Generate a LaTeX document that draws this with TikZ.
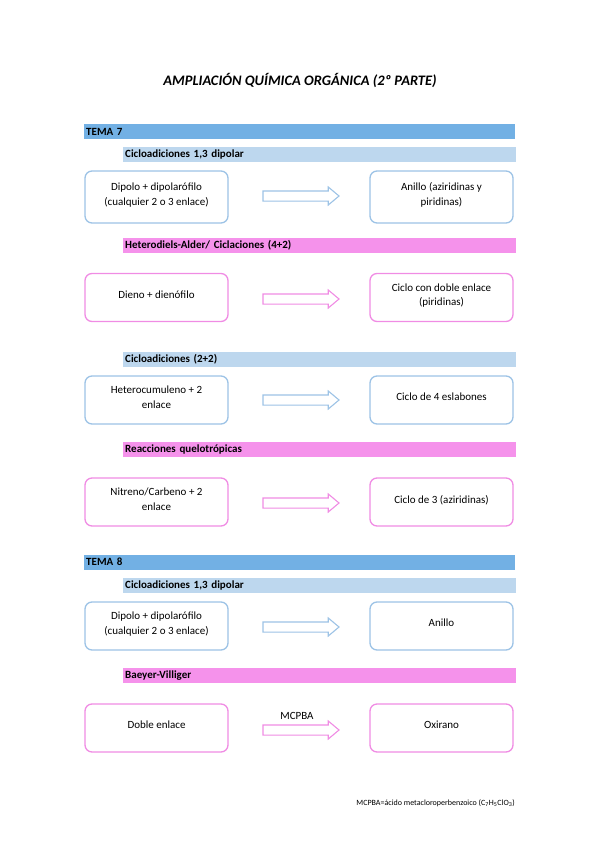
\documentclass[tikz,border=0pt]{standalone}
\usepackage{fontspec}
\setmainfont{Carlito}
\usetikzlibrary{shapes.arrows}

\definecolor{temablue}{HTML}{72B0E4}
\definecolor{subblue}{HTML}{BDD7EE}
\definecolor{boxblue}{HTML}{9DC3E6}
\definecolor{barpink}{HTML}{F592EB}
\definecolor{boxpink}{HTML}{F08CE4}

\begin{document}
\begin{tikzpicture}[x=1pt,y=1pt]
	\tikzstyle{every node}+=[inner sep=0pt]
	\tikzstyle{tema}=[fill=temablue, anchor=west, minimum height=15pt, text width=427pt, inner xsep=2pt, font=\bfseries\fontsize{11}{13}\selectfont]
	\tikzstyle{subazul}=[tema, fill=subblue, text width=389pt]
	\tikzstyle{subrosa}=[subazul, fill=barpink]
	\tikzstyle{cajaazul}=[draw=boxblue, line width=1.3pt, rounded corners=7pt, fill=white, minimum width=143pt, minimum height=48pt, text depth=6pt, align=center, font=\fontsize{11}{14.5}\selectfont]
	\tikzstyle{cajarosa}=[cajaazul, draw=boxpink]
	\tikzstyle{flechaazul}=[single arrow, draw=boxblue, line width=1.1pt, fill=white, minimum height=76pt, minimum width=17pt, inner sep=4.5pt, single arrow head extend=4pt, single arrow tip angle=80]
	\tikzstyle{flecharosa}=[flechaazul, draw=boxpink]
	\useasboundingbox (0,0) rectangle (599,-848);
	\node (titulo) at (300,-80) {\bfseries\itshape\fontsize{14.5}{17}\selectfont AMPLIACIÓN QUÍMICA ORGÁNICA (2º PARTE)};
	\node [tema] (tema7) at (84,-131.5) {TEMA 7};
	\node [subazul] (dipolar) at (123,-154.5) {Cicloadiciones 1,3 dipolar};
	\node [cajaazul] (dipolo) at (156.5,-197) [minimum height=52pt] {Dipolo + dipolarófilo\\(cualquier 2 o 3 enlace)};
	\node [cajaazul] (anillo) at (441.5,-197) [minimum height=52pt] {Anillo (aziridinas y\\piridinas)};
	\node [flechaazul] (f1) at (298,-196) {};
	\node [subrosa] (diels) at (123,-245.5) {Heterodiels-Alder/ Ciclaciones (4+2)};
	\node [cajarosa] (dieno) at (156.5,-297.5) {Dieno + dienófilo};
	\node [cajarosa] (ciclodoble) at (441.5,-297.5) {Ciclo con doble enlace\\(piridinas)};
	\node [flecharosa] (f2) at (298,-299) {};
	\node [subazul] (dosdos) at (123,-359) {Cicloadiciones (2+2)};
	\node [cajaazul] (hetero) at (156.5,-400) {Heterocumuleno + 2\\enlace};
	\node [cajaazul] (ciclocuatro) at (441.5,-400) {Ciclo de 4 eslabones};
	\node [flechaazul] (f3) at (298,-400) {};
	\node [subrosa] (quelo) at (123,-449.5) {Reacciones quelotrópicas};
	\node [cajarosa] (nitreno) at (156.5,-502) {Nitreno/Carbeno + 2\\enlace};
	\node [cajarosa] (ciclotres) at (441.5,-502) {Ciclo de 3 (aziridinas)};
	\node [flecharosa] (f4) at (298,-503) {};
	\node [tema] (tema8) at (84,-562) {TEMA 8};
	\node [subazul] (dipolar2) at (123,-585.5) {Cicloadiciones 1,3 dipolar};
	\node [cajaazul] (dipolo2) at (156.5,-626) {Dipolo + dipolarófilo\\(cualquier 2 o 3 enlace)};
	\node [cajaazul] (anillo2) at (441.5,-626) {Anillo};
	\node [flechaazul] (f5) at (298,-627) {};
	\node [subrosa] (baeyer) at (123,-675.5) {Baeyer-Villiger};
	\node [cajarosa] (doble) at (156.5,-728) {Doble enlace};
	\node [cajarosa] (oxirano) at (441.5,-728) {Oxirano};
	\node [flecharosa] (f6) at (298,-730) {};
	\node [font=\fontsize{11}{13}\selectfont] (mcpba) at (297,-716) {MCPBA};
	\node [anchor=east, font=\fontsize{8}{10}\selectfont] (nota) at (515,-803) {MCPBA=ácido metacloroperbenzoico (C\textsubscript{7}H\textsubscript{5}ClO\textsubscript{3})};
\end{tikzpicture}
\end{document}
